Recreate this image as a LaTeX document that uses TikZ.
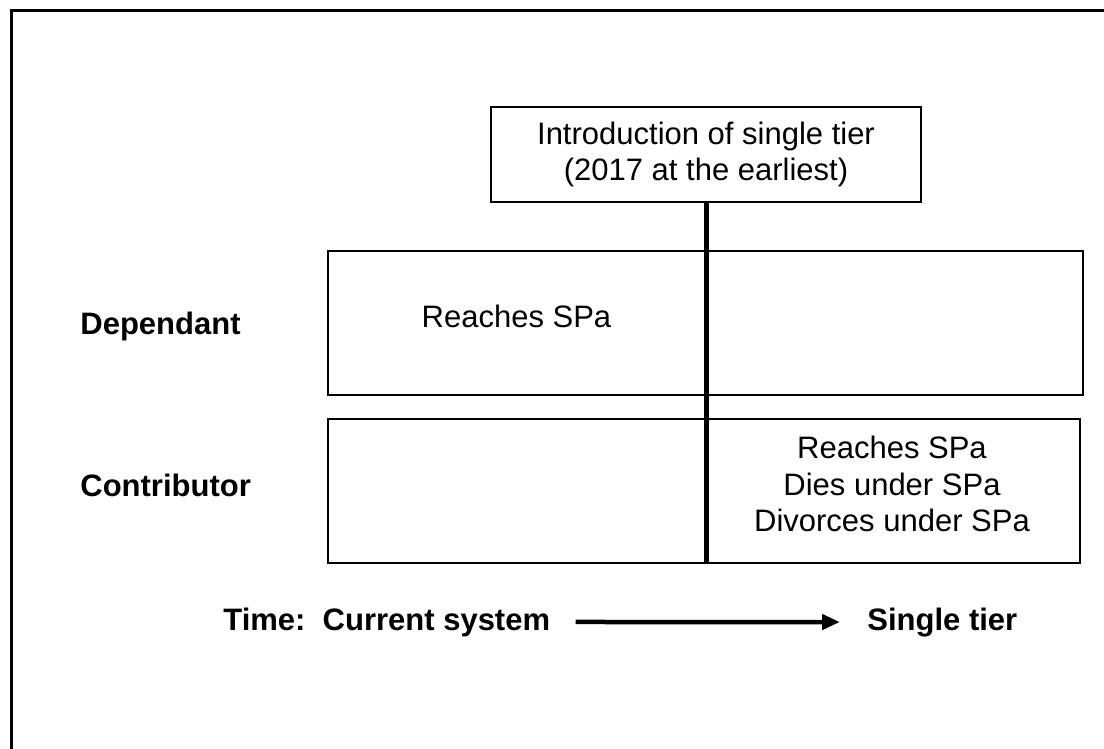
\documentclass[tikz,border=0pt]{standalone}
\usepackage{fontspec}
\setmainfont{Liberation Sans}
\usetikzlibrary{arrows.meta, positioning}
\tikzset{
    panel/.style={rectangle, draw=black, line width=1pt, inner sep=0pt},
    plain/.style={font=\fontsize{15.5}{18.25}\selectfont, inner sep=0pt, align=center},
    rowlabel/.style={font=\fontsize{15.5}{18.25}\selectfont\bfseries, inner sep=0pt, anchor=base west},
    timearrow/.style={line width=2.25pt, -{Triangle[length=9pt,width=7.5pt]}},
}

\begin{document}
\begin{tikzpicture}[x=0.5pt, y=-0.5pt]
    \useasboundingbox (0,0) rectangle (1104,749);
    \draw [line width=1.5pt] (11,749) -- (11,11) -- (1104,11);

    \node [panel, plain, minimum width=215pt, minimum height=47.5pt] (intro) at (706,154.5)
        {Introduction of single tier\\(2017 at the earliest)};
    \node [panel, minimum width=377.5pt, minimum height=72pt] (dep) at (705.5,323) {};
    \node [panel, minimum width=376pt, minimum height=72pt] (con) at (704,491) {};

    \node [rowlabel] (deplabel) at (80,334) {Dependant};
    \node [rowlabel] (conlabel) at (80,496) {Contributor};
    \node [plain, anchor=base] (depevent) at (516.5,327) {Reaches SPa};
    \node [plain] (conevent) at (892,484)
        {Reaches SPa\\Dies under SPa\\Divorces under SPa};

    \node [rowlabel] (now) at (223,630) {Time:\ \ Current system};
    \node [rowlabel] (single) at (867,630) {Single tier};

    \draw [line width=2.5pt] (intro.south) -- (intro.south |- con.south);
    \draw [timearrow, shorten <=12.5pt, shorten >=13.5pt] (now.east) -- (single.west);
\end{tikzpicture}
\end{document}
